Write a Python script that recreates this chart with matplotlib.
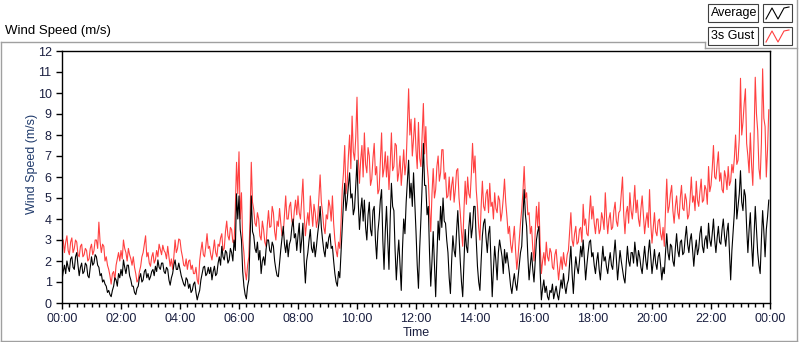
import numpy as np
import matplotlib
matplotlib.use("Agg")
import matplotlib.pyplot as plt
from matplotlib.lines import Line2D
from matplotlib.patches import Rectangle
from matplotlib.ticker import MultipleLocator

# 2.5-minute samples over one day (24 per hour, one row per hour)
gust = [
    2.7, 3.0, 2.4, 2.9, 3.2, 2.5, 2.3, 2.9, 3.1, 2.4, 2.6, 3.0, 2.9, 2.3, 2.2, 2.7, 2.8, 2.2, 2.3, 2.6, 2.5, 2.0, 2.1, 2.6,
    2.8, 2.3, 2.5, 3.0, 3.0, 2.6, 3.85, 2.9, 2.4, 2.8, 2.7, 2.0, 2.2, 1.8, 1.6, 1.3, 0.9, 1.4, 1.5, 1.1, 1.8, 2.1, 2.4, 2.0,
    2.5, 2.1, 3.0, 2.6, 2.4, 2.0, 2.6, 2.3, 2.1, 1.8, 2.2, 1.7, 1.4, 1.0, 1.1, 1.5, 1.75, 2.2, 2.4, 2.8, 3.2, 2.2, 2.4, 1.9,
    1.75, 2.2, 2.4, 1.9, 2.05, 2.5, 2.2, 2.8, 2.55, 2.3, 2.75, 2.5, 2.4, 2.1, 2.7, 2.2, 1.75, 2.1, 1.6, 2.2, 3.0, 2.4, 2.6, 3.05,
    3.0, 2.5, 2.2, 1.8, 1.75, 2.1, 1.6, 2.0, 2.05, 1.6, 1.8, 1.4, 1.4, 1.7, 1.1, 0.9, 2.0, 2.5, 2.9, 2.3, 2.2, 2.7, 3.3, 2.6,
    2.7, 2.3, 2.05, 2.5, 3.0, 2.4, 2.2, 2.8, 2.7, 3.1, 3.3, 2.5, 2.6, 3.4, 3.9, 3.2, 3.0, 3.6, 3.5, 2.9, 2.85, 4.5, 6.7, 5.2,
    7.2, 4.0, 5.25, 3.0, 2.4, 1.5, 1.1, 1.8, 2.2, 4.0, 6.7, 4.8, 4.45, 3.8, 3.65, 4.3, 4.0, 3.2, 3.0, 3.9, 3.5, 2.9, 2.7, 3.7,
    4.4, 3.6, 3.65, 4.6, 4.3, 3.4, 3.0, 3.9, 3.65, 4.5, 3.8, 3.2, 3.3, 4.2, 5.1, 4.0, 4.0, 4.6, 4.8, 3.9, 3.65, 4.4, 4.9, 4.2,
    5.1, 4.3, 4.0, 4.9, 5.9, 4.2, 3.2, 3.8, 4.3, 3.7, 5.1, 4.4, 3.65, 4.7, 4.3, 3.6, 4.0, 5.0, 6.1, 4.8, 4.3, 3.6, 3.3, 4.2,
    4.0, 4.9, 4.6, 3.9, 5.1, 3.8, 3.0, 2.5, 2.2, 2.9, 2.6, 3.8, 5.4, 6.2, 7.5, 5.2, 5.7, 7.0, 8.0, 6.4, 8.9, 7.2, 6.8, 7.9,
    9.8, 7.0, 5.7, 6.8, 7.5, 6.0, 8.1, 6.6, 6.2, 7.4, 7.0, 5.6, 5.9, 6.9, 7.6, 6.1, 6.5, 5.2, 5.4, 6.8, 8.1, 6.0, 6.4, 7.2,
    6.0, 7.0, 5.4, 6.6, 8.1, 6.3, 6.5, 7.6, 7.5, 5.8, 6.2, 7.0, 5.6, 6.4, 7.3, 6.1, 6.7, 8.4, 10.2, 8.0, 8.75, 7.0, 7.8, 8.8,
    7.3, 6.4, 8.6, 6.9, 6.5, 8.0, 9.5, 7.1, 8.4, 6.6, 5.9, 4.5, 3.4, 5.2, 6.4, 5.0, 5.4, 6.5, 7.0, 5.8, 6.2, 7.3, 7.3, 5.9,
    6.2, 5.0, 5.1, 6.0, 4.9, 5.6, 6.0, 4.8, 5.4, 6.3, 6.4, 5.0, 4.3, 3.4, 2.7, 4.4, 5.8, 4.7, 6.0, 5.2, 5.0, 6.1, 7.6, 6.2,
    7.0, 5.4, 4.6, 3.6, 3.0, 4.6, 5.8, 4.6, 4.4, 5.2, 5.4, 4.3, 5.7, 4.6, 4.8, 4.0, 5.25, 4.5, 4.3, 5.1, 4.9, 3.9, 4.3, 5.0,
    5.9, 4.8, 4.1, 3.3, 3.65, 2.8, 2.4, 3.0, 3.65, 2.5, 1.6, 2.2, 3.0, 3.8, 4.45, 5.3, 6.5, 5.0, 5.25, 4.2, 4.3, 3.3, 3.65, 2.6,
    2.0, 3.4, 4.6, 3.6, 4.8, 2.8, 1.4, 2.0, 2.4, 1.8, 2.9, 2.2, 2.0, 2.6, 2.4, 1.7, 1.6, 2.3, 2.55, 1.8, 1.1, 1.7, 2.2, 1.6,
    2.4, 1.9, 1.75, 2.3, 2.5, 3.4, 4.3, 3.0, 2.7, 3.3, 3.65, 2.8, 2.9, 3.5, 3.6, 2.9, 4.7, 3.7, 4.0, 3.3, 3.2, 4.2, 5.1, 4.0,
    4.6, 3.8, 3.3, 4.0, 4.0, 3.3, 3.5, 4.3, 4.0, 3.5, 5.25, 4.1, 3.3, 4.0, 4.3, 3.5, 3.6, 4.4, 4.8, 3.9, 3.65, 4.3, 4.4, 5.2,
    6.0, 4.2, 3.3, 4.3, 4.6, 3.8, 5.25, 4.4, 4.0, 4.7, 5.6, 4.3, 4.9, 4.0, 3.65, 4.5, 5.1, 4.2, 3.3, 3.9, 4.3, 3.6, 5.4, 3.8,
    2.85, 3.6, 4.3, 3.4, 3.2, 3.9, 4.0, 3.3, 3.0, 3.6, 2.7, 4.4, 5.9, 4.3, 4.6, 5.2, 5.6, 4.4, 3.8, 4.6, 5.1, 4.3, 4.0, 5.0,
    5.6, 4.5, 4.4, 5.2, 4.9, 4.0, 4.2, 5.0, 6.0, 4.8, 5.1, 4.4, 5.8, 4.9, 4.6, 5.3, 5.9, 4.8, 4.9, 5.6, 5.4, 4.7, 6.5, 5.3,
    5.6, 6.4, 7.5, 6.0, 5.9, 6.6, 7.2, 5.8, 6.2, 5.4, 5.25, 6.3, 6.0, 5.4, 6.5, 5.6, 5.8, 6.6, 6.2, 6.9, 8.0, 6.6, 6.8, 7.8,
    10.7, 8.0, 8.6, 9.5, 10.2, 7.6, 7.0, 6.2, 8.1, 6.6, 5.6, 7.8, 10.75, 9.0, 8.2, 6.4, 5.9, 7.6, 11.15, 8.8, 8.4, 6.0, 7.3, 9.2,
]

average = [
    1.1, 1.5, 1.8, 1.4, 2.0, 1.7, 1.5, 2.1, 2.2, 1.7, 1.6, 2.2, 2.4, 1.8, 1.3, 1.7, 1.9, 1.4, 1.5, 1.9, 1.8, 1.3, 1.2, 1.7,
    2.2, 1.8, 1.9, 2.3, 2.2, 1.8, 1.7, 1.3, 1.4, 1.0, 1.1, 0.9, 0.8, 0.5, 0.6, 0.4, 0.3, 0.6, 0.8, 1.2, 1.1, 0.8, 1.4, 1.2,
    1.6, 1.3, 2.05, 1.7, 1.4, 1.8, 1.8, 1.3, 1.1, 0.8, 0.8, 0.5, 0.4, 0.7, 0.8, 1.2, 1.4, 1.0, 1.1, 1.5, 1.6, 1.2, 1.4, 1.1,
    1.25, 1.5, 1.6, 1.3, 1.75, 1.5, 2.05, 1.7, 1.6, 1.9, 1.9, 1.5, 1.4, 1.7, 1.6, 1.1, 0.85, 1.2, 1.4, 1.8, 2.05, 1.6, 1.6, 1.9,
    1.6, 1.3, 1.1, 0.9, 0.8, 1.2, 1.1, 0.7, 0.9, 0.5, 0.6, 0.9, 1.0, 0.5, 0.15, 0.4, 0.6, 1.1, 1.4, 1.7, 1.75, 1.3, 1.4, 1.7,
    1.4, 1.7, 1.1, 1.5, 1.75, 1.3, 1.4, 1.9, 2.2, 1.8, 2.7, 2.2, 2.05, 2.5, 2.4, 1.9, 2.05, 2.6, 2.4, 2.0, 3.0, 2.5, 5.2, 4.0,
    5.1, 3.5, 3.0, 1.5, 0.8, 0.4, 0.2, 0.8, 1.1, 3.0, 5.1, 3.4, 3.2, 2.6, 2.4, 2.9, 2.05, 2.5, 1.4, 2.0, 2.2, 1.8, 2.55, 3.0,
    3.0, 2.5, 2.4, 2.9, 2.7, 2.0, 1.6, 1.3, 1.25, 1.9, 2.55, 3.1, 3.65, 2.8, 2.4, 3.0, 2.2, 2.8, 3.0, 3.6, 4.0, 3.1, 3.3, 2.5,
    3.2, 3.8, 2.4, 3.0, 3.8, 2.0, 0.95, 2.0, 2.4, 3.0, 3.5, 2.6, 2.4, 2.9, 2.2, 2.7, 3.3, 3.8, 4.6, 3.6, 3.0, 2.5, 2.2, 2.9,
    2.6, 3.1, 3.3, 2.6, 2.7, 2.0, 1.4, 1.0, 0.8, 1.5, 1.2, 2.4, 3.7, 4.8, 5.7, 4.4, 4.9, 5.6, 6.2, 5.0, 5.2, 4.2, 4.5, 5.6,
    6.8, 4.8, 3.5, 4.4, 5.0, 3.9, 4.9, 3.6, 3.0, 4.2, 4.8, 3.5, 3.2, 4.4, 4.6, 3.0, 2.1, 3.4, 4.0, 4.9, 5.4, 3.0, 1.6, 3.4,
    4.6, 3.0, 1.6, 4.0, 5.7, 4.6, 4.4, 2.5, 1.1, 2.2, 3.0, 1.8, 0.6, 2.6, 4.0, 3.3, 4.8, 5.8, 6.8, 5.0, 5.7, 4.6, 6.2, 4.8,
    3.4, 1.8, 0.7, 2.6, 4.0, 5.6, 7.6, 5.6, 5.6, 4.2, 4.6, 2.4, 0.8, 2.0, 3.4, 1.8, 0.3, 2.2, 3.9, 3.0, 4.6, 3.6, 5.0, 3.9,
    3.8, 3.0, 2.4, 1.2, 0.45, 2.0, 3.2, 2.5, 2.2, 3.4, 4.4, 3.2, 2.0, 1.0, 0.3, 1.9, 3.5, 2.7, 2.4, 3.6, 4.3, 3.1, 3.6, 4.6,
    4.6, 3.0, 1.75, 1.0, 0.6, 2.0, 3.2, 3.8, 4.0, 3.1, 2.4, 3.3, 3.65, 2.0, 0.3, 1.6, 2.7, 2.0, 1.1, 2.4, 3.0, 2.6, 2.2, 1.4,
    2.55, 1.9, 2.4, 1.9, 1.4, 0.8, 0.45, 1.0, 1.4, 0.9, 0.6, 1.2, 1.75, 2.4, 2.7, 4.0, 5.4, 4.2, 3.65, 2.2, 1.1, 1.8, 2.4, 1.6,
    1.0, 2.0, 3.0, 3.4, 3.65, 1.5, 0.15, 0.7, 1.1, 0.5, 0.8, 0.3, 0.15, 0.6, 0.5, 0.9, 0.2, 0.5, 0.8, 0.4, 0.15, 0.6, 1.1, 0.7,
    1.4, 0.8, 0.45, 0.9, 1.1, 1.9, 2.7, 1.4, 0.45, 1.5, 2.2, 1.7, 1.4, 2.0, 2.7, 2.2, 3.0, 2.1, 1.1, 1.8, 2.4, 2.9, 3.0, 2.2,
    2.4, 1.8, 1.4, 2.0, 2.4, 1.6, 1.1, 1.9, 2.7, 2.0, 2.2, 1.7, 1.4, 2.0, 2.4, 1.8, 1.6, 2.3, 3.0, 2.1, 1.1, 1.8, 2.5, 2.0,
    1.6, 1.2, 0.95, 1.8, 2.7, 2.0, 1.75, 2.4, 2.4, 1.9, 2.9, 2.3, 1.75, 2.5, 2.2, 1.7, 1.4, 2.1, 2.7, 2.0, 1.6, 2.4, 3.0, 2.2,
    1.4, 2.0, 2.55, 1.9, 1.6, 2.2, 2.4, 1.8, 1.1, 1.7, 1.4, 2.4, 3.3, 2.4, 2.05, 2.8, 2.7, 2.0, 1.75, 2.6, 3.3, 2.5, 2.2, 2.9,
    3.0, 2.3, 2.4, 3.1, 3.65, 2.8, 2.4, 3.0, 3.3, 2.5, 1.75, 2.5, 3.0, 2.3, 2.6, 3.3, 3.65, 2.7, 2.4, 3.0, 3.2, 2.6, 3.8, 3.0,
    2.7, 3.3, 4.0, 3.0, 2.4, 3.1, 3.65, 2.9, 2.8, 3.5, 4.0, 3.2, 2.7, 3.4, 3.8, 2.4, 1.1, 2.5, 3.4, 4.3, 5.9, 4.0, 4.6, 5.2,
    6.3, 4.8, 4.4, 5.4, 5.1, 3.6, 2.4, 3.5, 4.3, 2.8, 1.75, 3.2, 4.6, 3.5, 2.4, 1.8, 1.4, 3.0, 4.4, 3.4, 2.2, 3.5, 4.1, 4.9,
]

tick_hours = list(range(0, 25, 2))
tick_labels = ["%02d:00" % (h % 24) for h in tick_hours]
series_names = ["Average", "3s Gust"]
series_colors = ["#000000", "#ff4040"]

W, H = 800, 342
plt.rcParams["font.family"] = ["Liberation Sans", "DejaVu Sans"]
fig = plt.figure(figsize=(W / 100, H / 100), dpi=100)


def fx(px):
    return px / W


def fy(py):
    return 1 - py / H


ax = fig.add_axes([fx(62), fy(303), fx(770) - fx(62), fy(51) - fy(303)])
t_gust = np.arange(len(gust)) * 24.0 / len(gust)
t_avg = np.arange(len(average)) * 24.0 / len(average)
ax.plot(t_gust, gust, color=series_colors[1], lw=0.8, zorder=2)
ax.plot(t_avg, average, color=series_colors[0], lw=0.8, zorder=3)

ax.set_xlim(0, 24)
ax.set_ylim(0, 12)
ax.set_yticks(range(0, 13))
ax.set_xticks(tick_hours)
ax.set_xticklabels(tick_labels)
ax.xaxis.set_minor_locator(MultipleLocator(0.25))
ax.tick_params(axis="both", which="major", labelsize=9, colors="#000000",
               labelcolor="#1a1f40", length=4, width=1)
ax.tick_params(axis="x", which="minor", length=3, width=1)
for s in ax.spines.values():
    s.set_color("#000000")
    s.set_linewidth(1.0)

ax.set_xlabel("Time", fontsize=9, color="#1a1f40", labelpad=1)
ax.set_ylabel("Wind Speed (m/s)", fontsize=9, color="#1f3a6b")
ax.yaxis.set_label_coords(-0.034, 0.55)

fig.text(fx(5), fy(31), "Wind Speed (m/s)", fontsize=9.5, va="center", ha="left")

# outer frame
grey = "#a0a0a0"
frame = [((1, 42), (705, 42)), ((705, 42), (705, 48)), ((705, 48), (797, 48)),
         ((797, 0), (797, 341)), ((1, 42), (1, 341)), ((1, 341), (797, 341))]
for (x0, y0), (x1, y1) in frame:
    fig.add_artist(Line2D([fx(x0), fx(x1)], [fy(y0), fy(y1)], color=grey, lw=1))

# legend boxes
for i, name in enumerate(series_names):
    top = 4 + i * 23
    fig.add_artist(Rectangle((fx(708), fy(top + 18)), fx(50), 18 / H,
                             facecolor="white", edgecolor="#404040", lw=0.8))
    fig.text(fx(711), fy(top + 9), name, fontsize=9, va="center", ha="left")
    fig.add_artist(Rectangle((fx(763), fy(top + 18)), fx(29), 18 / H,
                             facecolor="white", edgecolor="#404040", lw=0.8))
    zx = [766, 772, 778, 784, 789]
    zy = [top + 15, top + 4, top + 15, top + 4, top + 3]
    fig.add_artist(Line2D([fx(v) for v in zx], [fy(v) for v in zy],
                          color=series_colors[i], lw=0.8))

fig.savefig("out.png", dpi=100)
